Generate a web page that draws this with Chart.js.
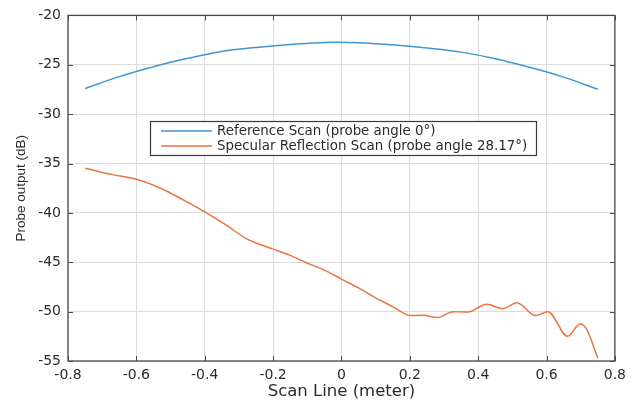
<!DOCTYPE html>
<html>
<head>
<meta charset="utf-8">
<script src="https://cdn.jsdelivr.net/npm/chart.js@4.4.0/dist/chart.umd.min.js"></script>
<style>
  html, body { margin: 0; padding: 0; background: #fff; }
</style>
</head>
<body>
<canvas id="scanChart" width="632" height="402"></canvas>
<script>
// values
const refX = [-0.75, -0.65, -0.55, -0.45, -0.35, -0.25, -0.15, -0.05, 0.05, 0.15, 0.25, 0.35, 0.45, 0.55, 0.65, 0.75];
const refY = [-27.4, -26.2, -25.2, -24.35, -23.65, -23.25, -22.95, -22.74, -22.76, -22.98, -23.3, -23.72, -24.38, -25.25, -26.25, -27.48];

const specX = [-0.75, -0.7, -0.673, -0.6, -0.532, -0.464, -0.4, -0.339, -0.281, -0.25, -0.2, -0.15, -0.106, -0.05, 0, 0.05, 0.1, 0.15, 0.19,
  0.2, 0.24, 0.28, 0.327, 0.37, 0.425, 0.472, 0.514, 0.568, 0.604, 0.662, 0.698, 0.716, 0.75];
const specY = [-35.47, -35.9, -36.1, -36.6, -37.45, -38.66, -39.9, -41.2, -42.55, -43.05, -43.67, -44.3, -45.0, -45.8, -46.7, -47.6, -48.6, -49.5, -50.3,
  -50.4, -50.37, -50.6, -50.0, -50.05, -49.26, -49.7, -49.1, -50.4, -50.0, -52.5, -51.25, -51.7, -54.7];

const xTicks = [-0.8, -0.6, -0.4, -0.2, 0, 0.2, 0.4, 0.6, 0.8];
const xTickLabels = ["-0.8", "-0.6", "-0.4", "-0.2", "0", "0.2", "0.4", "0.6", "0.8"];
const yTicks = [-55, -50, -45, -40, -35, -30, -25, -20];
const yTickLabels = ["-55", "-50", "-45", "-40", "-35", "-30", "-25", "-20"];

const seriesLabels = ["Reference Scan (probe angle 0\u00B0)", "Specular Reflection Scan (probe angle 28.17\u00B0)"];
const seriesColors = ["#3f96d6", "#e9743f"];

const TEXT = "#2b2b2b";
const FONT = "DejaVu Sans";
const GRID = "#dcdcdc";

const toPoints = (xs, ys) => xs.map((x, i) => ({ x: x, y: ys[i] }));

// axes box with inward ticks on all four sides, like matlab
const boxPlugin = {
  id: "box",
  afterDatasetsDraw(chart) {
    const { ctx, chartArea: a, scales } = chart;
    ctx.save();
    ctx.strokeStyle = "#4a4a4a";
    ctx.lineWidth = 1.3;
    ctx.strokeRect(a.left, a.top, a.right - a.left, a.bottom - a.top);
    ctx.lineWidth = 1;
    ctx.beginPath();
    xTicks.forEach(v => {
      const px = Math.round(scales.x.getPixelForValue(v)) + 0.5;
      ctx.moveTo(px, a.bottom); ctx.lineTo(px, a.bottom - 5);
      ctx.moveTo(px, a.top); ctx.lineTo(px, a.top + 5);
    });
    yTicks.forEach(v => {
      const py = Math.round(scales.y.getPixelForValue(v)) + 0.5;
      ctx.moveTo(a.left, py); ctx.lineTo(a.left + 5, py);
      ctx.moveTo(a.right, py); ctx.lineTo(a.right - 5, py);
    });
    ctx.stroke();
    ctx.restore();
  }
};

// legend box inside the axes
const legendPlugin = {
  id: "boxLegend",
  afterDraw(chart) {
    const ctx = chart.ctx;
    const bx = 150.5, by = 121.5, bw = 386, bh = 34;
    ctx.save();
    ctx.fillStyle = "#fff";
    ctx.fillRect(bx, by, bw, bh);
    ctx.strokeStyle = "#3a3a3a";
    ctx.lineWidth = 1.2;
    ctx.strokeRect(bx, by, bw, bh);
    ctx.font = "13.4px '" + FONT + "'";
    ctx.textBaseline = "middle";
    chart.data.datasets.forEach((ds, i) => {
      const y = 131 + i * 15;
      ctx.strokeStyle = ds.borderColor;
      ctx.lineWidth = 1.5;
      ctx.beginPath();
      ctx.moveTo(161, y); ctx.lineTo(212, y);
      ctx.stroke();
      ctx.fillStyle = TEXT;
      ctx.fillText(ds.label, 217, y + 0.5);
    });
    ctx.restore();
  }
};

new Chart(document.getElementById("scanChart"), {
  type: "line",
  data: {
    datasets: [
      {
        label: seriesLabels[0],
        data: toPoints(refX, refY),
        borderColor: seriesColors[0],
        borderWidth: 1.5,
        pointRadius: 0,
        tension: 0.4,
        fill: false
      },
      {
        label: seriesLabels[1],
        data: toPoints(specX, specY),
        borderColor: seriesColors[1],
        borderWidth: 1.5,
        pointRadius: 0,
        cubicInterpolationMode: "monotone",
        fill: false
      }
    ]
  },
  options: {
    responsive: false,
    animation: false,
    layout: { padding: { top: 14, right: 13, left: 0, bottom: 0 } },
    plugins: { legend: { display: false }, tooltip: { enabled: false } },
    scales: {
      x: {
        type: "linear",
        min: -0.8,
        max: 0.8,
        afterBuildTicks: s => { s.ticks = xTicks.map(v => ({ value: v })); },
        afterFit: s => { s.height = 41; },
        grid: { color: GRID, drawTicks: false },
        border: { display: false },
        ticks: {
          padding: 6,
          color: TEXT,
          maxRotation: 0,
          autoSkip: false,
          font: { family: FONT, size: 14 },
          callback: (v, i) => xTickLabels[i]
        },
        title: {
          display: true,
          text: "Scan Line (meter)",
          color: TEXT,
          font: { family: FONT, size: 16.5 },
          padding: 0
        }
      },
      y: {
        type: "linear",
        min: -55,
        max: -20,
        afterBuildTicks: s => { s.ticks = yTicks.map(v => ({ value: v })); },
        afterFit: s => { s.width = 68; },
        grid: { color: GRID, drawTicks: false },
        border: { display: false },
        ticks: {
          padding: 7,
          color: TEXT,
          autoSkip: false,
          font: { family: FONT, size: 14 },
          callback: (v, i) => yTickLabels[i]
        },
        title: {
          display: true,
          text: "Probe output (dB)",
          color: TEXT,
          font: { family: "Liberation Sans", size: 13.5 },
          padding: { top: 13, bottom: 0 }
        }
      }
    }
  },
  plugins: [boxPlugin, legendPlugin]
});
</script>
</body>
</html>
